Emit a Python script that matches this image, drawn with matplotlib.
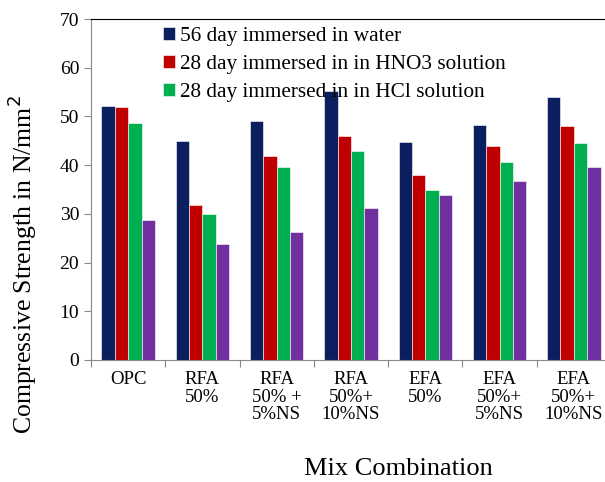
import matplotlib
matplotlib.use("Agg")
import matplotlib.pyplot as plt
import numpy as np

# categories and series values (N/mm^2)
categories = ["OPC", "RFA\n50%", "RFA\n50% +\n5%NS", "RFA\n50%+\n10%NS",
              "EFA\n50%", "EFA\n50%+\n5%NS", "EFA\n50%+\n10%NS"]
water_56 = [52.1, 45.0, 49.0, 55.3, 44.7, 48.2, 54.0]
hno3_28 = [51.9, 31.9, 41.9, 46.0, 38.0, 43.9, 48.0]
hcl_28 = [48.7, 29.9, 39.6, 43.0, 35.0, 40.6, 44.6]
fourth = [28.7, 23.9, 26.3, 31.1, 33.9, 36.7, 39.6]

series_labels = ["56 day immersed in water",
                 "28 day immersed in in HNO3 solution",
                 "28 day immersed in in HCl solution",
                 None]
colors = ["#0B1F5E", "#C00000", "#00B050", "#7030A0"]

plt.rcParams['font.family'] = ['Liberation Serif', 'DejaVu Serif']

W, H = 605, 482
fig = plt.figure(figsize=(W / 100, H / 100), dpi=100)
ax = fig.add_axes([91 / W, 1 - 360 / H, 520 / W, 341 / H])

x = np.arange(len(categories))
w = 0.18
for i, (vals, lab, c) in enumerate(zip([water_56, hno3_28, hcl_28, fourth],
                                      series_labels, colors)):
    ax.bar(x + (i - 1.5) * w, vals, w, color=c, label=lab,
           edgecolor="white", linewidth=0.4)

ax.set_xlim(-0.5, len(categories) - 0.5)
ax.set_ylim(0, 70)
ax.set_yticks(range(0, 71, 10))
# group separators as major ticks, names as minor ticks
ax.set_xticks(np.arange(len(categories) + 1) - 0.5)
ax.set_xticklabels([])
ax.set_xticks(x, minor=True)
ax.set_xticklabels(categories, minor=True, fontsize=13.5, linespacing=1.04,
                   va="top")
ax.tick_params(axis="x", which="minor", length=0, pad=8)
ax.tick_params(axis="x", which="major", length=5, color="#888888")
ax.tick_params(axis="y", length=5, color="#888888", labelsize=14)

for s in ["left", "bottom"]:
    ax.spines[s].set_color("#888888")

fig.text(22 / W, 1 - 265 / H, "Compressive Strength in N/mm$^2$",
         rotation=90, fontsize=18.5, ha="center", va="center")
fig.text(398 / W, 1 - 469 / H, "Mix Combination", fontsize=19,
         ha="center", va="center")

ax.legend(loc="upper left", bbox_to_anchor=(163 / W, 1 - 27 / H),
          bbox_transform=fig.transFigure, frameon=False,
          fontsize=15.3, handlelength=0.55, handleheight=0.55,
          handletextpad=0.25, labelspacing=0.42, borderaxespad=0,
          borderpad=0)

fig.savefig("out.png", dpi=100)
